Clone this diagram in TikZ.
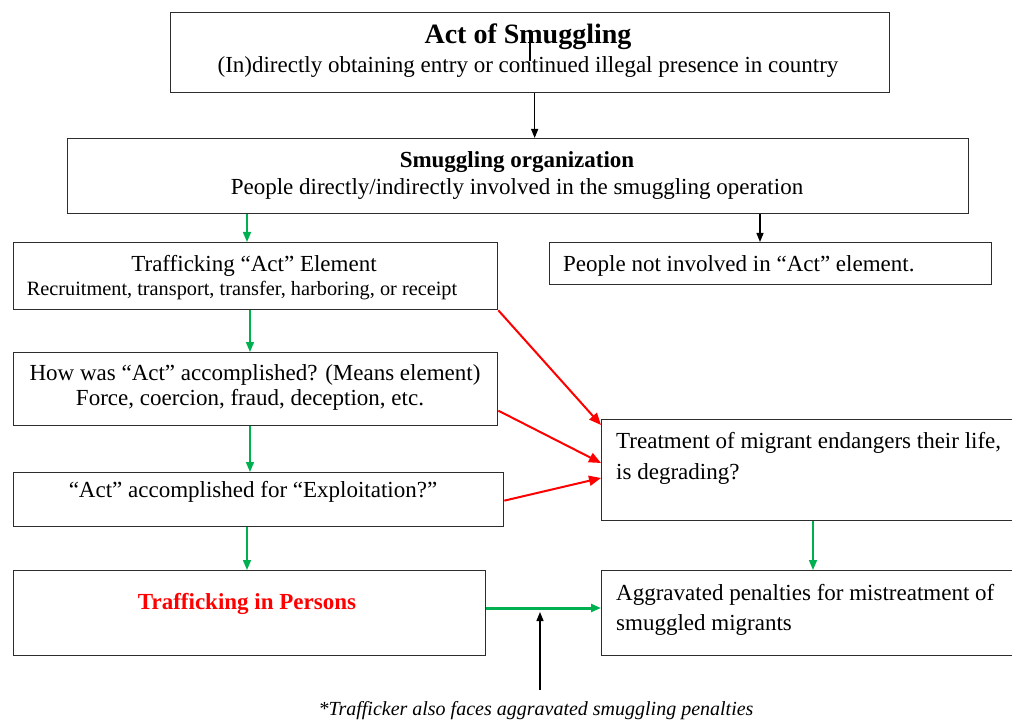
\documentclass[tikz,border=0pt]{standalone}
\usepackage{fontspec}
\setmainfont{Liberation Serif}
\usetikzlibrary{arrows.meta,calc}
\definecolor{boxline}{RGB}{45,45,45}
\definecolor{flowgreen}{RGB}{0,176,80}
\definecolor{flowred}{RGB}{255,0,0}
\begin{document}
\begin{tikzpicture}[x=1pt,y=-1pt,
  box/.style={draw=boxline, line width=1.3pt, rectangle, inner sep=0pt, fill=white, anchor=north west},
  txt/.style={inner sep=0pt, font=\fontsize{23}{27}\selectfont},
  small/.style={inner sep=0pt, font=\fontsize{20.3}{24}\selectfont},
  ltxt/.style={txt, anchor=west},
  blackarr/.style={draw=black, line width=1.2pt, -{Triangle[length=9pt,width=7pt]}},
  greenarr/.style={draw=flowgreen, line width=1.6pt, -{Triangle[length=10pt,width=8pt]}},
  redarr/.style={draw=flowred, line width=2pt, -{Triangle[length=12pt,width=10pt]}}
]
\useasboundingbox (0,0) rectangle (1012,722);
\clip (0,0) rectangle (1012,722);

% boxes
\node[box, minimum width=719pt, minimum height=80pt] (act) at (170,12) {};
\node[box, minimum width=901pt, minimum height=75pt] (org) at (67,138) {};
\node[box, minimum width=484pt, minimum height=67pt] (elem) at (13,242) {};
\node[box, minimum width=442pt, minimum height=42pt] (notin) at (549,242) {};
\node[box, minimum width=484pt, minimum height=73pt] (means) at (13,352) {};
\node[box, minimum width=490pt, minimum height=54pt] (exploit) at (13,472) {};
\node[box, minimum width=472pt, minimum height=85pt] (tip) at (13,570) {};
\node[box, minimum width=420pt, minimum height=101pt] (treat) at (601,419) {};
\node[box, minimum width=420pt, minimum height=85pt] (aggr) at (601,570) {};

% texts
\node[inner sep=0pt, font=\fontsize{28}{32}\selectfont\bfseries] (actT) at (528,37) {Act of Smuggling};
\node[txt] (actS) at (528,67) {(In)directly obtaining entry or continued illegal presence in country};
\draw[line width=1.3pt] (530,31) -- (530,61);
\node[inner sep=0pt, font=\fontsize{23}{27}\selectfont\bfseries] (orgT) at (517,162) {Smuggling organization};
\node[txt] (orgS) at (517,189) {People directly/indirectly involved in the smuggling operation};
\node[txt] (elemT) at (254,266) {Trafficking “Act” Element};
\node[small] (elemS) at (242,291) {Recruitment, transport, transfer, harboring, or receipt};
\node[ltxt] (notinT) at (563,266) {People not involved in “Act” element.};
\node[txt] (meansT) at (255,375) {How was “Act” accomplished? (Means element)};
\node[txt] (meansS) at (250,400) {Force, coercion, fraud, deception, etc.};
\node[txt] (exploitT) at (253,492) {“Act” accomplished for “Exploitation?”};
\node[inner sep=0pt, font=\fontsize{23}{27}\selectfont\bfseries, text=flowred] (tipT) at (247,604) {Trafficking in Persons};
\node[ltxt] (treatA) at (616,443) {Treatment of migrant endangers their life,};
\node[ltxt] (treatB) at (616,474) {is degrading?};
\node[ltxt] (aggrA) at (616,595) {Aggravated penalties for mistreatment of};
\node[ltxt] (aggrB) at (616,625) {smuggled migrants};
\node[inner sep=0pt, font=\fontsize{20}{24}\selectfont\itshape] (note) at (536,711) {*Trafficker also faces aggravated smuggling penalties};
\coordinate (noteTop) at (540,690);

% connectors
\draw[blackarr] ([xshift=4.5pt]act.south) -- ([xshift=4.5pt]act.south |- org.north);
\draw[greenarr] (org.south -| 247,0) -- (elem.north -| 247,0);
\draw[blackarr] (org.south -| 760,0) -- (notin.north -| 760,0);
\draw[greenarr] (elem.south -| 250,0) -- (means.north -| 250,0);
\draw[greenarr] (means.south -| 250,0) -- (exploit.north -| 250,0);
\draw[greenarr] (exploit.south -| 247,0) -- (tip.north -| 247,0);
\draw[redarr] (elem.south east) -- ([yshift=-6pt]treat.north west);
\draw[redarr] ([yshift=-21.5pt]means.east) -- (treat.west |- 0,463);
\draw[redarr] ([yshift=-1pt]exploit.east) -- (treat.west |- 0,478);
\draw[greenarr] (treat.south -| 813,0) -- (aggr.north -| 813,0);
\draw[greenarr, line width=3pt] (tip.east |- 0,608) -- (aggr.west |- 0,608);
\draw[blackarr] (noteTop) -- (540,612);
\end{tikzpicture}
\end{document}
